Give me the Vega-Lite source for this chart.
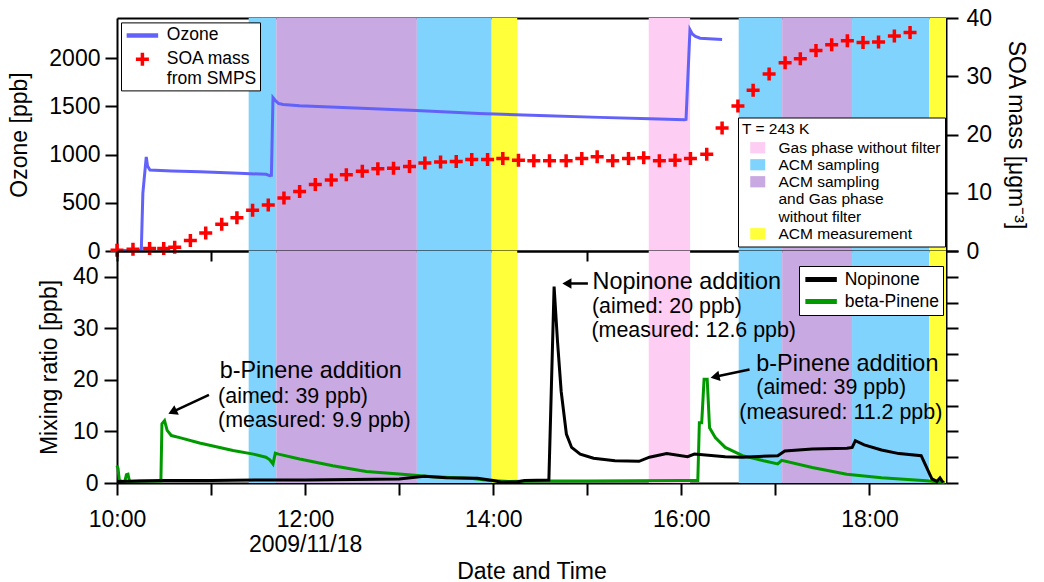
{
"$schema": "https://vega.github.io/schema/vega-lite/v6.json",
"background": "white",
"autosize": {"type": "pad"},
"padding": {"left": 8, "top": 7, "right": 5, "bottom": 4},
"bounds": "flush",
"spacing": 0,
"config": {
  "font": "Liberation Sans",
  "view": {"stroke": null},
  "axis": {"labelFontSize": 23, "titleFontSize": 23, "titleFontWeight": "normal", "labelColor": "black", "titleColor": "black", "domainColor": "black", "tickColor": "black", "domainWidth": 2, "tickWidth": 2, "grid": false, "zindex": 1, "labelFlush": false, "labelOverlap": false},
  "legend": {"labelColor": "black", "titleColor": "black", "labelLimit": 400}
},
"datasets": {
  "bands": [
    {"start": "2009-11-18T11:24:00", "end": "2009-11-18T11:41:36", "phase": "ACM sampling"},
    {"start": "2009-11-18T11:41:36", "end": "2009-11-18T13:11:18", "phase": "ACM sampling and Gas phase without filter"},
    {"start": "2009-11-18T13:11:18", "end": "2009-11-18T13:59:00", "phase": "ACM sampling"},
    {"start": "2009-11-18T13:59:00", "end": "2009-11-18T14:15:18", "phase": "ACM measurement"},
    {"start": "2009-11-18T15:39:12", "end": "2009-11-18T16:05:36", "phase": "Gas phase without filter"},
    {"start": "2009-11-18T16:36:36", "end": "2009-11-18T17:04:18", "phase": "ACM sampling"},
    {"start": "2009-11-18T17:04:18", "end": "2009-11-18T17:48:54", "phase": "ACM sampling and Gas phase without filter"},
    {"start": "2009-11-18T17:48:54", "end": "2009-11-18T18:38:12", "phase": "ACM sampling"},
    {"start": "2009-11-18T18:38:12", "end": "2009-11-18T18:48:50", "phase": "ACM measurement"}
  ],
  "ozone": [
    {"t": "2009-11-18T10:00:00", "ozone": 5},
    {"t": "2009-11-18T10:15:30", "ozone": 5},
    {"t": "2009-11-18T10:16:30", "ozone": 600},
    {"t": "2009-11-18T10:18:40", "ozone": 975},
    {"t": "2009-11-18T10:19:30", "ozone": 880},
    {"t": "2009-11-18T10:21:00", "ozone": 840},
    {"t": "2009-11-18T10:35:00", "ozone": 830},
    {"t": "2009-11-18T10:53:00", "ozone": 822},
    {"t": "2009-11-18T11:18:00", "ozone": 805},
    {"t": "2009-11-18T11:35:00", "ozone": 795},
    {"t": "2009-11-18T11:37:30", "ozone": 780},
    {"t": "2009-11-18T11:38:30", "ozone": 785},
    {"t": "2009-11-18T11:39:30", "ozone": 1590},
    {"t": "2009-11-18T11:41:00", "ozone": 1560},
    {"t": "2009-11-18T11:43:00", "ozone": 1530},
    {"t": "2009-11-18T11:46:00", "ozone": 1518},
    {"t": "2009-11-18T11:56:30", "ozone": 1505},
    {"t": "2009-11-18T12:28:00", "ozone": 1485},
    {"t": "2009-11-18T13:11:00", "ozone": 1455},
    {"t": "2009-11-18T13:51:00", "ozone": 1425},
    {"t": "2009-11-18T14:29:30", "ozone": 1404},
    {"t": "2009-11-18T15:08:00", "ozone": 1385},
    {"t": "2009-11-18T15:40:00", "ozone": 1370},
    {"t": "2009-11-18T16:02:00", "ozone": 1360},
    {"t": "2009-11-18T16:03:00", "ozone": 1365},
    {"t": "2009-11-18T16:05:30", "ozone": 2294},
    {"t": "2009-11-18T16:07:00", "ozone": 2250},
    {"t": "2009-11-18T16:09:00", "ozone": 2225},
    {"t": "2009-11-18T16:12:00", "ozone": 2205},
    {"t": "2009-11-18T16:26:00", "ozone": 2191}
  ],
  "soa": [
    {"t": "2009-11-18T10:00:00", "soa": 0.15, "series": "SOA mass from SMPS"},
    {"t": "2009-11-18T10:10:12", "soa": 0.3, "series": "SOA mass from SMPS"},
    {"t": "2009-11-18T10:20:48", "soa": 0.45, "series": "SOA mass from SMPS"},
    {"t": "2009-11-18T10:29:48", "soa": 0.45, "series": "SOA mass from SMPS"},
    {"t": "2009-11-18T10:36:48", "soa": 0.65, "series": "SOA mass from SMPS"},
    {"t": "2009-11-18T10:46:48", "soa": 1.8, "series": "SOA mass from SMPS"},
    {"t": "2009-11-18T10:56:36", "soa": 3.1, "series": "SOA mass from SMPS"},
    {"t": "2009-11-18T11:06:48", "soa": 4.6, "series": "SOA mass from SMPS"},
    {"t": "2009-11-18T11:16:30", "soa": 5.7, "series": "SOA mass from SMPS"},
    {"t": "2009-11-18T11:26:30", "soa": 7.0, "series": "SOA mass from SMPS"},
    {"t": "2009-11-18T11:36:30", "soa": 7.9, "series": "SOA mass from SMPS"},
    {"t": "2009-11-18T11:46:30", "soa": 9.1, "series": "SOA mass from SMPS"},
    {"t": "2009-11-18T11:56:30", "soa": 10.2, "series": "SOA mass from SMPS"},
    {"t": "2009-11-18T12:06:30", "soa": 11.4, "series": "SOA mass from SMPS"},
    {"t": "2009-11-18T12:16:42", "soa": 12.2, "series": "SOA mass from SMPS"},
    {"t": "2009-11-18T12:26:18", "soa": 13.1, "series": "SOA mass from SMPS"},
    {"t": "2009-11-18T12:36:30", "soa": 13.7, "series": "SOA mass from SMPS"},
    {"t": "2009-11-18T12:46:24", "soa": 14.1, "series": "SOA mass from SMPS"},
    {"t": "2009-11-18T12:56:24", "soa": 14.2, "series": "SOA mass from SMPS"},
    {"t": "2009-11-18T13:06:36", "soa": 14.5, "series": "SOA mass from SMPS"},
    {"t": "2009-11-18T13:16:24", "soa": 15.1, "series": "SOA mass from SMPS"},
    {"t": "2009-11-18T13:26:24", "soa": 15.3, "series": "SOA mass from SMPS"},
    {"t": "2009-11-18T13:36:24", "soa": 15.35, "series": "SOA mass from SMPS"},
    {"t": "2009-11-18T13:46:18", "soa": 15.7, "series": "SOA mass from SMPS"},
    {"t": "2009-11-18T13:56:24", "soa": 15.7, "series": "SOA mass from SMPS"},
    {"t": "2009-11-18T14:06:06", "soa": 15.9, "series": "SOA mass from SMPS"},
    {"t": "2009-11-18T14:16:06", "soa": 15.6, "series": "SOA mass from SMPS"},
    {"t": "2009-11-18T14:25:54", "soa": 15.5, "series": "SOA mass from SMPS"},
    {"t": "2009-11-18T14:35:54", "soa": 15.5, "series": "SOA mass from SMPS"},
    {"t": "2009-11-18T14:46:30", "soa": 15.5, "series": "SOA mass from SMPS"},
    {"t": "2009-11-18T14:56:30", "soa": 15.9, "series": "SOA mass from SMPS"},
    {"t": "2009-11-18T15:06:18", "soa": 16.2, "series": "SOA mass from SMPS"},
    {"t": "2009-11-18T15:16:12", "soa": 15.5, "series": "SOA mass from SMPS"},
    {"t": "2009-11-18T15:26:18", "soa": 15.9, "series": "SOA mass from SMPS"},
    {"t": "2009-11-18T15:36:00", "soa": 16.0, "series": "SOA mass from SMPS"},
    {"t": "2009-11-18T15:46:00", "soa": 15.5, "series": "SOA mass from SMPS"},
    {"t": "2009-11-18T15:56:00", "soa": 15.6, "series": "SOA mass from SMPS"},
    {"t": "2009-11-18T16:05:48", "soa": 15.9, "series": "SOA mass from SMPS"},
    {"t": "2009-11-18T16:16:12", "soa": 16.6, "series": "SOA mass from SMPS"},
    {"t": "2009-11-18T16:26:00", "soa": 21.1, "series": "SOA mass from SMPS"},
    {"t": "2009-11-18T16:36:06", "soa": 24.9, "series": "SOA mass from SMPS"},
    {"t": "2009-11-18T16:45:48", "soa": 27.6, "series": "SOA mass from SMPS"},
    {"t": "2009-11-18T16:56:00", "soa": 30.4, "series": "SOA mass from SMPS"},
    {"t": "2009-11-18T17:06:12", "soa": 32.3, "series": "SOA mass from SMPS"},
    {"t": "2009-11-18T17:15:54", "soa": 33.0, "series": "SOA mass from SMPS"},
    {"t": "2009-11-18T17:25:54", "soa": 34.4, "series": "SOA mass from SMPS"},
    {"t": "2009-11-18T17:35:54", "soa": 35.4, "series": "SOA mass from SMPS"},
    {"t": "2009-11-18T17:45:54", "soa": 36.1, "series": "SOA mass from SMPS"},
    {"t": "2009-11-18T17:55:54", "soa": 35.8, "series": "SOA mass from SMPS"},
    {"t": "2009-11-18T18:05:48", "soa": 35.9, "series": "SOA mass from SMPS"},
    {"t": "2009-11-18T18:15:54", "soa": 36.9, "series": "SOA mass from SMPS"},
    {"t": "2009-11-18T18:25:54", "soa": 37.5, "series": "SOA mass from SMPS"}
  ],
  "bpinene": [
    {"t": "2009-11-18T10:00:00", "ppb": 3.4},
    {"t": "2009-11-18T10:00:40", "ppb": 2.8},
    {"t": "2009-11-18T10:01:30", "ppb": 0.5},
    {"t": "2009-11-18T10:03:00", "ppb": 0.3},
    {"t": "2009-11-18T10:05:00", "ppb": 0.3},
    {"t": "2009-11-18T10:06:00", "ppb": 1.6},
    {"t": "2009-11-18T10:07:00", "ppb": 1.7},
    {"t": "2009-11-18T10:08:00", "ppb": 0.3},
    {"t": "2009-11-18T10:15:00", "ppb": 0.4},
    {"t": "2009-11-18T10:28:00", "ppb": 0.4},
    {"t": "2009-11-18T10:28:40", "ppb": 11.5},
    {"t": "2009-11-18T10:30:20", "ppb": 12.1},
    {"t": "2009-11-18T10:32:00", "ppb": 10.2},
    {"t": "2009-11-18T10:34:40", "ppb": 9.2},
    {"t": "2009-11-18T10:40:00", "ppb": 8.8},
    {"t": "2009-11-18T10:52:40", "ppb": 7.75},
    {"t": "2009-11-18T11:14:00", "ppb": 6.3},
    {"t": "2009-11-18T11:27:00", "ppb": 5.6},
    {"t": "2009-11-18T11:35:00", "ppb": 5.0},
    {"t": "2009-11-18T11:37:30", "ppb": 4.5},
    {"t": "2009-11-18T11:39:30", "ppb": 3.7},
    {"t": "2009-11-18T11:41:00", "ppb": 5.8},
    {"t": "2009-11-18T11:43:00", "ppb": 5.6},
    {"t": "2009-11-18T11:56:30", "ppb": 4.65},
    {"t": "2009-11-18T12:17:40", "ppb": 3.35},
    {"t": "2009-11-18T12:39:00", "ppb": 2.25},
    {"t": "2009-11-18T13:00:00", "ppb": 1.75},
    {"t": "2009-11-18T13:21:30", "ppb": 1.2},
    {"t": "2009-11-18T13:47:00", "ppb": 0.85},
    {"t": "2009-11-18T13:57:30", "ppb": 0.5},
    {"t": "2009-11-18T14:10:00", "ppb": 0.3},
    {"t": "2009-11-18T14:30:00", "ppb": 0.4},
    {"t": "2009-11-18T15:00:00", "ppb": 0.4},
    {"t": "2009-11-18T15:30:00", "ppb": 0.45},
    {"t": "2009-11-18T16:00:00", "ppb": 0.5},
    {"t": "2009-11-18T16:10:30", "ppb": 0.5},
    {"t": "2009-11-18T16:11:30", "ppb": 11.7},
    {"t": "2009-11-18T16:13:00", "ppb": 11.7},
    {"t": "2009-11-18T16:14:30", "ppb": 20.1},
    {"t": "2009-11-18T16:16:30", "ppb": 20.1},
    {"t": "2009-11-18T16:18:00", "ppb": 10.7},
    {"t": "2009-11-18T16:21:40", "ppb": 8.8},
    {"t": "2009-11-18T16:28:00", "ppb": 6.9},
    {"t": "2009-11-18T16:39:00", "ppb": 5.3},
    {"t": "2009-11-18T16:52:30", "ppb": 4.3},
    {"t": "2009-11-18T17:01:30", "ppb": 3.7},
    {"t": "2009-11-18T17:04:00", "ppb": 4.4},
    {"t": "2009-11-18T17:23:30", "ppb": 3.0},
    {"t": "2009-11-18T17:45:30", "ppb": 1.7},
    {"t": "2009-11-18T18:07:40", "ppb": 1.0},
    {"t": "2009-11-18T18:36:30", "ppb": 0.45},
    {"t": "2009-11-18T18:48:00", "ppb": 0.1}
  ],
  "nopinone": [
    {"t": "2009-11-18T10:00:00", "ppb": 0.3},
    {"t": "2009-11-18T10:30:00", "ppb": 0.5},
    {"t": "2009-11-18T11:00:00", "ppb": 0.5},
    {"t": "2009-11-18T11:30:00", "ppb": 0.6},
    {"t": "2009-11-18T12:00:00", "ppb": 0.6},
    {"t": "2009-11-18T12:30:00", "ppb": 0.7},
    {"t": "2009-11-18T13:00:00", "ppb": 0.8},
    {"t": "2009-11-18T13:16:00", "ppb": 1.3},
    {"t": "2009-11-18T13:30:00", "ppb": 1.0},
    {"t": "2009-11-18T13:50:00", "ppb": 0.9},
    {"t": "2009-11-18T14:00:00", "ppb": 0.5},
    {"t": "2009-11-18T14:05:00", "ppb": 0.15},
    {"t": "2009-11-18T14:15:00", "ppb": 0.2},
    {"t": "2009-11-18T14:20:00", "ppb": 0.5},
    {"t": "2009-11-18T14:35:30", "ppb": 0.6},
    {"t": "2009-11-18T14:38:50", "ppb": 38.1},
    {"t": "2009-11-18T14:41:00", "ppb": 27.5},
    {"t": "2009-11-18T14:43:20", "ppb": 17.8},
    {"t": "2009-11-18T14:46:40", "ppb": 9.5},
    {"t": "2009-11-18T14:50:00", "ppb": 6.9},
    {"t": "2009-11-18T14:55:30", "ppb": 5.6},
    {"t": "2009-11-18T15:04:00", "ppb": 4.8},
    {"t": "2009-11-18T15:17:40", "ppb": 4.3},
    {"t": "2009-11-18T15:33:00", "ppb": 4.2},
    {"t": "2009-11-18T15:39:40", "ppb": 5.0},
    {"t": "2009-11-18T15:50:40", "ppb": 5.7},
    {"t": "2009-11-18T16:04:00", "ppb": 5.1},
    {"t": "2009-11-18T16:08:20", "ppb": 5.6},
    {"t": "2009-11-18T16:28:00", "ppb": 5.1},
    {"t": "2009-11-18T16:39:00", "ppb": 5.0},
    {"t": "2009-11-18T17:01:30", "ppb": 5.3},
    {"t": "2009-11-18T17:06:00", "ppb": 6.2},
    {"t": "2009-11-18T17:23:30", "ppb": 6.6},
    {"t": "2009-11-18T17:45:40", "ppb": 6.75},
    {"t": "2009-11-18T17:49:00", "ppb": 6.9},
    {"t": "2009-11-18T17:51:00", "ppb": 8.2},
    {"t": "2009-11-18T17:56:40", "ppb": 7.4},
    {"t": "2009-11-18T18:07:40", "ppb": 6.4},
    {"t": "2009-11-18T18:18:50", "ppb": 5.7},
    {"t": "2009-11-18T18:33:00", "ppb": 5.3},
    {"t": "2009-11-18T18:39:50", "ppb": 0.8},
    {"t": "2009-11-18T18:43:00", "ppb": 0.3},
    {"t": "2009-11-18T18:45:00", "ppb": 1.0},
    {"t": "2009-11-18T18:47:00", "ppb": 0.1}
  ]
},
"resolve": {
  "scale": {"x": "independent", "y": "independent", "fill": "independent", "stroke": "independent", "shape": "independent", "size": "independent", "strokeWidth": "independent"},
  "legend": {"fill": "independent", "stroke": "independent", "shape": "independent", "size": "independent", "strokeWidth": "independent"}
},
"vconcat": [
  {
    "width": 829, "height": 233,
    "resolve": {"scale": {"x": "independent", "y": "independent"}},
    "layer": [
      {
        "data": {"name": "bands"},
        "mark": {"type": "rect", "strokeWidth": 0},
        "encoding": {
          "x": {"field": "start", "type": "temporal", "scale": {"domain": [{"year": 2009, "month": 11, "date": 18, "hours": 10}, {"year": 2009, "month": 11, "date": 18, "hours": 18, "minutes": 48, "seconds": 50}], "nice": false}, "axis": {"orient": "top", "ticks": false, "labels": false, "title": null, "domain": true}},
          "x2": {"field": "end"},
          "fill": {"field": "phase", "type": "nominal",
            "scale": {"domain": ["Gas phase without filter", "ACM sampling", "ACM sampling and Gas phase without filter", "ACM measurement"], "range": ["#FDCDF3", "#80D3FC", "#C8A9E1", "#FFFF3A"]},
            "legend": {"orient": "none", "legendX": 621, "legendY": 99.5, "title": "T = 243 K", "titleFontSize": 15.5, "titleFontWeight": "normal", "titlePadding": 3, "strokeColor": "black", "fillColor": "white", "padding": 4, "labelFontSize": 15.5, "labelOffset": 13, "symbolOffset": 8, "rowPadding": 0, "symbolType": "M-1,-0.75H1V0.75H-1Z", "symbolSize": 225, "symbolStrokeWidth": 0, "symbolOpacity": 1,
              "labelExpr": "datum.value == 'ACM sampling and Gas phase without filter' ? ['ACM sampling', 'and Gas phase', 'without filter'] : datum.label"}
          }
        }
      },
      {
        "data": {"name": "ozone"},
        "mark": {"type": "line", "strokeWidth": 3, "stroke": "#6262FA"},
        "encoding": {
          "x": {"field": "t", "type": "temporal", "scale": {"domain": [{"year": 2009, "month": 11, "date": 18, "hours": 10}, {"year": 2009, "month": 11, "date": 18, "hours": 18, "minutes": 48, "seconds": 50}], "nice": false}, "axis": {"orient": "bottom", "ticks": false, "labels": false, "title": null, "domain": true}},
          "y": {"field": "ozone", "type": "quantitative", "scale": {"domain": [0, 2415], "nice": false}, "axis": {"orient": "left", "values": [0, 500, 1000, 1500, 2000], "format": "d", "title": "Ozone [ppb]", "tickSize": 12, "labelPadding": 5, "titlePadding": 17}}
        }
      },
      {
        "data": {"name": "soa"},
        "mark": {"type": "point", "filled": false, "opacity": 1},
        "encoding": {
          "x": {"field": "t", "type": "temporal", "scale": {"domain": [{"year": 2009, "month": 11, "date": 18, "hours": 10}, {"year": 2009, "month": 11, "date": 18, "hours": 18, "minutes": 48, "seconds": 50}], "nice": false}, "axis": null},
          "y": {"field": "soa", "type": "quantitative", "scale": {"domain": [0, 40], "nice": false}, "axis": {"orient": "right", "values": [0, 10, 20, 30, 40], "title": "SOA mass [μgm⁻³]", "tickSize": 12, "labelPadding": 8, "titlePadding": 12}},
          "stroke": {"field": "series", "type": "nominal",
            "scale": {"domain": ["Ozone", "SOA mass from SMPS"], "range": ["#6262FA", "#FF0000"]},
            "legend": {"orient": "none", "legendX": 4, "legendY": 4.4, "title": null, "strokeColor": "black", "fillColor": "white", "padding": 3, "labelFontSize": 17.5, "labelOffset": 14.4, "symbolOffset": 8.4, "rowPadding": 1.2,
              "labelExpr": "datum.value == 'SOA mass from SMPS' ? ['SOA mass', 'from SMPS'] : datum.label"}},
          "shape": {"field": "series", "type": "nominal", "scale": {"domain": ["Ozone", "SOA mass from SMPS"], "range": ["M-2.1,0H2.1", "M-1,0H1M0,-1V1"]},
            "legend": {"orient": "none", "legendX": 4, "legendY": 4.4, "title": null}},
          "size": {"field": "series", "type": "nominal", "scale": {"domain": ["Ozone", "SOA mass from SMPS"], "range": [225, 169]},
            "legend": {"orient": "none", "legendX": 4, "legendY": 4.4, "title": null}},
          "strokeWidth": {"field": "series", "type": "nominal", "scale": {"domain": ["Ozone", "SOA mass from SMPS"], "range": [4.5, 3.5]},
            "legend": {"orient": "none", "legendX": 4, "legendY": 4.4, "title": null}}
        }
      }
    ]
  },
  {
    "width": 829, "height": 232,
    "resolve": {"scale": {"x": "independent", "y": "independent"}},
    "layer": [
      {
        "data": {"name": "bands"},
        "mark": {"type": "rect", "strokeWidth": 0},
        "encoding": {
          "x": {"field": "start", "type": "temporal", "scale": {"domain": [{"year": 2009, "month": 11, "date": 18, "hours": 10}, {"year": 2009, "month": 11, "date": 18, "hours": 18, "minutes": 48, "seconds": 50}], "nice": false},
            "axis": {"orient": "top", "values": [{"year": 2009, "month": 11, "date": 18, "hours": 10}, {"year": 2009, "month": 11, "date": 18, "hours": 11}, {"year": 2009, "month": 11, "date": 18, "hours": 12}, {"year": 2009, "month": 11, "date": 18, "hours": 13}, {"year": 2009, "month": 11, "date": 18, "hours": 14}, {"year": 2009, "month": 11, "date": 18, "hours": 15}, {"year": 2009, "month": 11, "date": 18, "hours": 16}, {"year": 2009, "month": 11, "date": 18, "hours": 17}, {"year": 2009, "month": 11, "date": 18, "hours": 18}], "labels": false, "tickSize": -10, "title": null, "domain": true}},
          "x2": {"field": "end"},
          "fill": {"field": "phase", "type": "nominal",
            "scale": {"domain": ["Gas phase without filter", "ACM sampling", "ACM sampling and Gas phase without filter", "ACM measurement"], "range": ["#FDCDF3", "#80D3FC", "#C8A9E1", "#FFFF3A"]},
            "legend": null}
        }
      },
      {
        "layer": [
          {
            "data": {"name": "bpinene"},
            "mark": {"type": "line", "strokeWidth": 3},
            "encoding": {
              "x": {"field": "t", "type": "temporal", "scale": {"domain": [{"year": 2009, "month": 11, "date": 18, "hours": 10}, {"year": 2009, "month": 11, "date": 18, "hours": 18, "minutes": 48, "seconds": 50}], "nice": false},
                "axis": {"orient": "bottom", "values": [{"year": 2009, "month": 11, "date": 18, "hours": 10}, {"year": 2009, "month": 11, "date": 18, "hours": 11}, {"year": 2009, "month": 11, "date": 18, "hours": 12}, {"year": 2009, "month": 11, "date": 18, "hours": 13}, {"year": 2009, "month": 11, "date": 18, "hours": 14}, {"year": 2009, "month": 11, "date": 18, "hours": 15}, {"year": 2009, "month": 11, "date": 18, "hours": 16}, {"year": 2009, "month": 11, "date": 18, "hours": 17}, {"year": 2009, "month": 11, "date": 18, "hours": 18}],
                  "labelExpr": "hours(datum.value) % 2 == 1 ? '' : (hours(datum.value) == 12 ? ['12:00', '2009/11/18'] : timeFormat(datum.value, '%H:%M'))",
                  "labelLineHeight": 25, "tickSize": 12, "labelPadding": 13, "title": "Date and Time", "titlePadding": 4}},
              "y": {"field": "ppb", "type": "quantitative", "scale": {"domain": [0, 45], "nice": false},
                "axis": {"orient": "left", "values": [0, 5, 10, 15, 20, 25, 30, 35, 40], "labelExpr": "datum.value % 10 == 0 ? datum.label : ''", "tickSize": {"condition": {"test": "datum.value % 10 != 0", "value": 7}, "value": 13}, "labelPadding": 6, "title": "Mixing ratio [ppb]", "titlePadding": 11}},
              "stroke": {"datum": "beta-Pinene", "type": "nominal",
                "scale": {"domain": ["Nopinone", "beta-Pinene"], "range": ["#000000", "#009A00"]},
                "legend": {"orient": "none", "legendX": 682, "legendY": 15, "title": null, "strokeColor": "black", "fillColor": "white", "padding": 3.5, "labelFontSize": 17.5, "labelOffset": 13.6, "symbolOffset": 8.6, "rowPadding": 2, "symbolType": "M-2.1,0H2.1", "symbolSize": 225, "symbolStrokeWidth": 5}}
            }
          },
          {
            "data": {"name": "nopinone"},
            "mark": {"type": "line", "strokeWidth": 3},
            "encoding": {
              "x": {"field": "t", "type": "temporal"},
              "y": {"field": "ppb", "type": "quantitative"},
              "stroke": {"datum": "Nopinone", "type": "nominal"}
            }
          },
          {"data": {"values": [{}]}, "mark": {"type": "text", "text": "Nopinone addition", "align": "left", "baseline": "alphabetic", "fontSize": 23.4, "color": "black"},
           "encoding": {"x": {"datum": {"year": 2009, "month": 11, "date": 18, "hours": 15, "minutes": 3, "seconds": 20}, "type": "temporal"}, "y": {"datum": 37.6, "type": "quantitative"}}},
          {"data": {"values": [{}]}, "mark": {"type": "text", "text": "(aimed: 20 ppb)", "align": "left", "baseline": "alphabetic", "fontSize": 21.4, "color": "black"},
           "encoding": {"x": {"datum": {"year": 2009, "month": 11, "date": 18, "hours": 15, "minutes": 3}, "type": "temporal"}, "y": {"datum": 33.0, "type": "quantitative"}}},
          {"data": {"values": [{}]}, "mark": {"type": "text", "text": "(measured: 12.6 ppb)", "align": "left", "baseline": "alphabetic", "fontSize": 21.4, "color": "black"},
           "encoding": {"x": {"datum": {"year": 2009, "month": 11, "date": 18, "hours": 15, "minutes": 2, "seconds": 40}, "type": "temporal"}, "y": {"datum": 28.3, "type": "quantitative"}}},
          {"data": {"values": [{}]}, "mark": {"type": "text", "text": "b-Pinene addition", "align": "left", "baseline": "alphabetic", "fontSize": 23.4, "color": "black"},
           "encoding": {"x": {"datum": {"year": 2009, "month": 11, "date": 18, "hours": 11, "minutes": 5, "seconds": 30}, "type": "temporal"}, "y": {"datum": 20.35, "type": "quantitative"}}},
          {"data": {"values": [{}]}, "mark": {"type": "text", "text": "(aimed: 39 ppb)", "align": "left", "baseline": "alphabetic", "fontSize": 21.4, "color": "black"},
           "encoding": {"x": {"datum": {"year": 2009, "month": 11, "date": 18, "hours": 11, "minutes": 4, "seconds": 30}, "type": "temporal"}, "y": {"datum": 15.6, "type": "quantitative"}}},
          {"data": {"values": [{}]}, "mark": {"type": "text", "text": "(measured: 9.9 ppb)", "align": "left", "baseline": "alphabetic", "fontSize": 21.4, "color": "black"},
           "encoding": {"x": {"datum": {"year": 2009, "month": 11, "date": 18, "hours": 11, "minutes": 4, "seconds": 30}, "type": "temporal"}, "y": {"datum": 10.8, "type": "quantitative"}}},
          {"data": {"values": [{}]}, "mark": {"type": "text", "text": "b-Pinene addition", "align": "left", "baseline": "alphabetic", "fontSize": 23.4, "color": "black"},
           "encoding": {"x": {"datum": {"year": 2009, "month": 11, "date": 18, "hours": 16, "minutes": 47, "seconds": 50}, "type": "temporal"}, "y": {"datum": 21.8, "type": "quantitative"}}},
          {"data": {"values": [{}]}, "mark": {"type": "text", "text": "(aimed: 39 ppb)", "align": "left", "baseline": "alphabetic", "fontSize": 21.4, "color": "black"},
           "encoding": {"x": {"datum": {"year": 2009, "month": 11, "date": 18, "hours": 16, "minutes": 47, "seconds": 50}, "type": "temporal"}, "y": {"datum": 17.3, "type": "quantitative"}}},
          {"data": {"values": [{}]}, "mark": {"type": "text", "text": "(measured: 11.2 ppb)", "align": "left", "baseline": "alphabetic", "fontSize": 21.4, "color": "black"},
           "encoding": {"x": {"datum": {"year": 2009, "month": 11, "date": 18, "hours": 16, "minutes": 37}, "type": "temporal"}, "y": {"datum": 12.4, "type": "quantitative"}}},
          {"data": {"values": [{}]}, "mark": {"type": "rule", "strokeWidth": 2.5, "color": "black"},
           "encoding": {"x": {"datum": {"year": 2009, "month": 11, "date": 18, "hours": 15, "minutes": 0, "seconds": 24}, "type": "temporal"}, "x2": {"datum": {"year": 2009, "month": 11, "date": 18, "hours": 14, "minutes": 47}}, "y": {"datum": 38.7, "type": "quantitative"}, "y2": {"datum": 38.7}}},
          {"data": {"values": [{}]}, "mark": {"type": "point", "shape": "triangle-left", "size": 110, "filled": true, "color": "black", "opacity": 1},
           "encoding": {"x": {"datum": {"year": 2009, "month": 11, "date": 18, "hours": 14, "minutes": 47}, "type": "temporal"}, "y": {"datum": 38.7, "type": "quantitative"}}},
          {"data": {"values": [{}]}, "mark": {"type": "rule", "strokeWidth": 2.5, "color": "black"},
           "encoding": {"x": {"datum": {"year": 2009, "month": 11, "date": 18, "hours": 10, "minutes": 58, "seconds": 40}, "type": "temporal"}, "x2": {"datum": {"year": 2009, "month": 11, "date": 18, "hours": 10, "minutes": 35, "seconds": 24}}, "y": {"datum": 17.1, "type": "quantitative"}, "y2": {"datum": 13.8}}},
          {"data": {"values": [{}]}, "mark": {"type": "point", "shape": "triangle-left", "size": 110, "filled": true, "color": "black", "opacity": 1, "angle": 334.8},
           "encoding": {"x": {"datum": {"year": 2009, "month": 11, "date": 18, "hours": 10, "minutes": 35, "seconds": 24}, "type": "temporal"}, "y": {"datum": 13.8, "type": "quantitative"}}},
          {"data": {"values": [{}]}, "mark": {"type": "rule", "strokeWidth": 2.5, "color": "black"},
           "encoding": {"x": {"datum": {"year": 2009, "month": 11, "date": 18, "hours": 16, "minutes": 43, "seconds": 30}, "type": "temporal"}, "x2": {"datum": {"year": 2009, "month": 11, "date": 18, "hours": 16, "minutes": 21, "seconds": 30}}, "y": {"datum": 22.0, "type": "quantitative"}, "y2": {"datum": 20.6}}},
          {"data": {"values": [{}]}, "mark": {"type": "point", "shape": "triangle-left", "size": 110, "filled": true, "color": "black", "opacity": 1, "angle": 348.1},
           "encoding": {"x": {"datum": {"year": 2009, "month": 11, "date": 18, "hours": 16, "minutes": 21, "seconds": 30}, "type": "temporal"}, "y": {"datum": 20.6, "type": "quantitative"}}}
        ]
      },
      {
        "data": {"values": [{}]},
        "mark": {"type": "rule", "opacity": 0},
        "encoding": {
          "y": {"datum": 0, "type": "quantitative", "scale": {"domain": [0, 45], "nice": false},
            "axis": {"orient": "right", "values": [0, 5, 10, 15, 20, 25, 30, 35, 40, 45], "labels": false, "tickSize": 12, "title": null, "domain": true}}
        }
      }
    ]
  }
]
}
